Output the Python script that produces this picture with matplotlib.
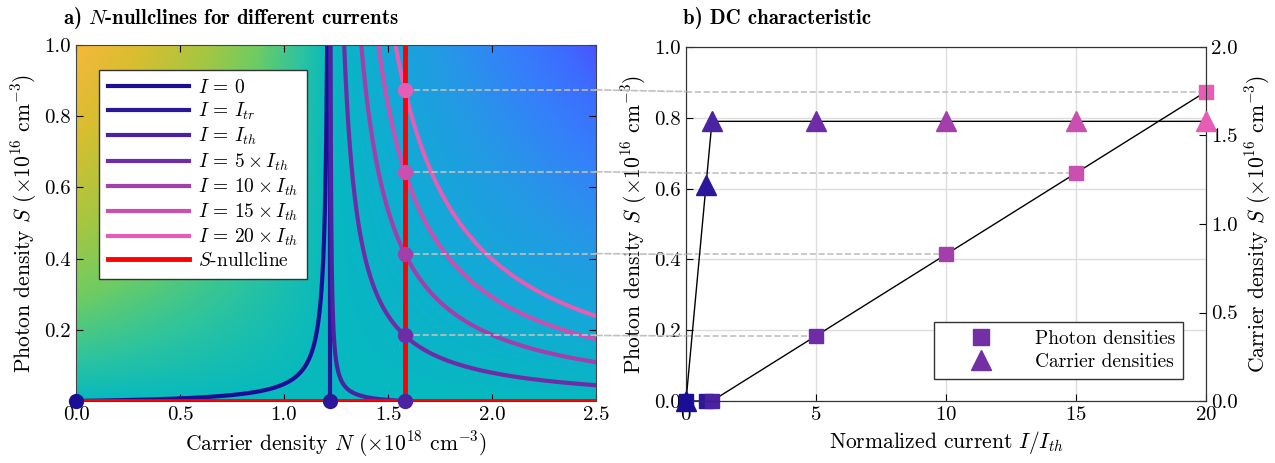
import numpy as np
import matplotlib
matplotlib.use('Agg')
import matplotlib.pyplot as plt
from matplotlib.colors import LinearSegmentedColormap
from matplotlib.patches import ConnectionPatch
from matplotlib.lines import Line2D

plt.rcParams.update({
    'font.family': 'serif', 'font.serif': ['cmr10'], 'mathtext.fontset': 'cm',
    'axes.unicode_minus': False, 'axes.formatter.use_mathtext': True,
})

# ---------------- data ----------------
N_tr = 1.22          # transparency carrier density (x1e18)
N_th = 1.58          # threshold carrier density (x1e18)
gain_c = 0.0105      # nullcline constant
current_labels = [r'$I\,=\,0$', r'$I\,=\,I_{tr}$', r'$I\,=\,I_{th}$', r'$I\,=\,5\times I_{th}$',
                  r'$I\,=\,10\times I_{th}$', r'$I\,=\,15\times I_{th}$', r'$I\,=\,20\times I_{th}$']
norm_currents = [0.0, 0.77, 1.0, 5.0, 10.0, 15.0, 20.0]
curve_colors = ['#1c0d96', '#2c1699', '#4b22a0', '#6e2da6', '#a23fab', '#c94fb0', '#e55db5']
photon_ss = [0.0, 0.0, 0.0, 0.184, 0.414, 0.644, 0.874]
carrier_ss = [0.0, 1.22, 1.58, 1.58, 1.58, 1.58, 1.58]
steady_N = [0.0, N_tr, N_th, N_th, N_th, N_th, N_th]

bg_vals = [-1.22, -0.9, -0.6, -0.35, -0.15, 0.0, 0.25, 0.55, 0.85, 1.1, 1.28]
bg_cols = ['#f6b83a', '#d8be30', '#a8c640', '#6fcc62', '#30c49c', '#06b9bf',
           '#12aad6', '#2598e6', '#3580fa', '#3d6cff', '#4a55ff']

W, H = 1275, 463
fig = plt.figure(figsize=(W / 100, H / 100), dpi=100)
ax1 = fig.add_axes([76 / W, 62 / H, 520 / W, 356 / H])
ax2 = fig.add_axes([686 / W, 62 / H, 520 / W, 354 / H])

# ---------------- panel a ----------------
Ng = np.linspace(0, 2.5, 500)
Sg = np.linspace(0, 1, 300)
NN, SS = np.meshgrid(Ng, Sg)
field = (NN - N_tr) * SS
pos = [(v - bg_vals[0]) / (bg_vals[-1] - bg_vals[0]) for v in bg_vals]
cmap = LinearSegmentedColormap.from_list('bg', list(zip(pos, bg_cols)))
ax1.imshow(field, extent=[0, 2.5, 0, 1], origin='lower', aspect='auto', cmap=cmap,
           vmin=bg_vals[0], vmax=bg_vals[-1], interpolation='bilinear', zorder=0)

lw = 3.0
for i, k in enumerate(norm_currents):
    col = curve_colors[i]
    if i == 0:
        N = np.linspace(0, N_tr / (1 + gain_c), 400)
        S = N * gain_c / (N_tr - N)
        ax1.plot(N, S, color=col, lw=lw, label=current_labels[i], zorder=2)
    elif i == 1:
        ax1.plot([N_tr, N_tr], [0, 1], color=col, lw=lw, label=current_labels[i], zorder=2)
    else:
        n_top = (k * N_th * gain_c + N_tr) / (1 + gain_c)
        n_end = N_th if k == 1 else 2.5
        N = np.geomspace(n_top - N_tr, n_end - N_tr, 600) + N_tr
        S = (k * N_th - N) * gain_c / (N - N_tr)
        ax1.plot(N, S, color=col, lw=lw, label=current_labels[i], zorder=2)

ax1.plot([N_th, N_th], [0, 1], color='#ff0000', lw=3.5, zorder=3, label=r'$S$-nullcline')
ax1.plot([0, 2.5], [0, 0], color='#ff0000', lw=3.5, zorder=3)

for i in range(len(norm_currents)):
    ax1.plot(steady_N[i], photon_ss[i], 'o', color=curve_colors[i], ms=10,
             zorder=5, clip_on=False)

ax1.set_xlim(0, 2.5)
ax1.set_ylim(0, 1)
ax1.set_xticks([0, 0.5, 1.0, 1.5, 2.0, 2.5])
ax1.set_yticks([0.2, 0.4, 0.6, 0.8, 1.0])
ax1.xaxis.set_major_formatter(matplotlib.ticker.FormatStrFormatter('%.1f'))
ax1.yaxis.set_major_formatter(matplotlib.ticker.FormatStrFormatter('%.1f'))
ax1.tick_params(direction='in', top=True, right=True, labelsize=15, length=5)
ax1.set_xlabel(r'Carrier density $N$ ($\times10^{18}$ cm$^{-3}$)', fontsize=15.5)
ax1.set_ylabel(r'Photon density $S$ ($\times10^{16}$ cm$^{-3}$)', fontsize=15.5)
for sp in ax1.spines.values():
    sp.set_color('#444444')
leg1 = ax1.legend(loc='upper left', bbox_to_anchor=(0.044, 0.929), borderaxespad=0,
                  fontsize=14, handlelength=4.2, handletextpad=0.45, labelspacing=0.2,
                  fancybox=False, framealpha=1, edgecolor='#333333', borderpad=0.45)
leg1.get_frame().set_linewidth(1.0)

# ---------------- panel b ----------------
ax2r = ax2.twinx()
ax2.plot(norm_currents, photon_ss, color='black', lw=1.0, zorder=3)
for i, k in enumerate(norm_currents):
    ax2.plot(k, photon_ss[i], 's', color=curve_colors[i], ms=10, zorder=4, clip_on=False)
ax2r.plot(norm_currents, carrier_ss, color='black', lw=1.0, zorder=3)
for i, k in enumerate(norm_currents):
    ax2r.plot(k, carrier_ss[i], '^', color=curve_colors[i], ms=14, zorder=4, clip_on=False)

ax2.set_xlim(0, 20)
ax2.set_ylim(0, 1)
ax2r.set_ylim(0, 2)
ax2.set_xticks([0, 5, 10, 15, 20])
ax2.set_yticks([0, 0.2, 0.4, 0.6, 0.8, 1.0])
ax2r.set_yticks([0, 0.5, 1.0, 1.5, 2.0])
ax2.yaxis.set_major_formatter(matplotlib.ticker.FormatStrFormatter('%.1f'))
ax2r.yaxis.set_major_formatter(matplotlib.ticker.FormatStrFormatter('%.1f'))
ax2.grid(True, color='#dddddd', lw=1.0)
ax2.set_axisbelow(True)
ax2.tick_params(direction='in', labelsize=15, length=5)
ax2r.tick_params(direction='in', labelsize=15, length=5)
ax2.set_xlabel(r'Normalized current $I/I_{th}$', fontsize=15.5)
ax2.set_ylabel(r'Photon density $S$ ($\times10^{16}$ cm$^{-3}$)', fontsize=15.5)
ax2r.set_ylabel(r'Carrier density $S$ ($\times10^{16}$ cm$^{-3}$)', fontsize=15.5)
for a in (ax2, ax2r):
    for sp in a.spines.values():
        sp.set_color('#333333')

leg_col = '#7330a5'
handles = [Line2D([], [], ls='none', marker='s', color=leg_col, ms=12),
           Line2D([], [], ls='none', marker='^', color=leg_col, ms=15)]
leg2 = ax2r.legend(handles, ['Photon densities', 'Carrier densities'], loc='lower right',
                   bbox_to_anchor=(0.956, 0.062), borderaxespad=0, fontsize=14,
                   handlelength=4, fancybox=False, framealpha=1, edgecolor='#333333',
                   labelspacing=0.3)
leg2.get_frame().set_linewidth(1.0)

# dashed guide lines from nullcline intersections to the DC characteristic
dash_col = '#c0c0c0'
for i in range(3, len(norm_currents)):
    s = photon_ss[i]
    ax1.plot([N_th, 2.5], [s, s], ls='--', color=dash_col, lw=1.2, zorder=4)
    ax2.plot([0, norm_currents[i]], [s, s], ls='--', color=dash_col, lw=1.2, zorder=2)
    con = ConnectionPatch(xyA=(2.5, s), coordsA=ax1.transData, xyB=(0, s),
                          coordsB=ax2.transData, color=dash_col, lw=1.2, ls='--')
    fig.add_artist(con)

fig.text(63 / W, 1 - 18 / H, r'a) $N$-nullclines for different currents',
         fontfamily='cmb10', fontsize=15, va='center', ha='left')
fig.text(683 / W, 1 - 18 / H, 'b) DC characteristic',
         fontfamily='cmb10', fontsize=15, va='center', ha='left')

fig.savefig('out.png', dpi=100)
